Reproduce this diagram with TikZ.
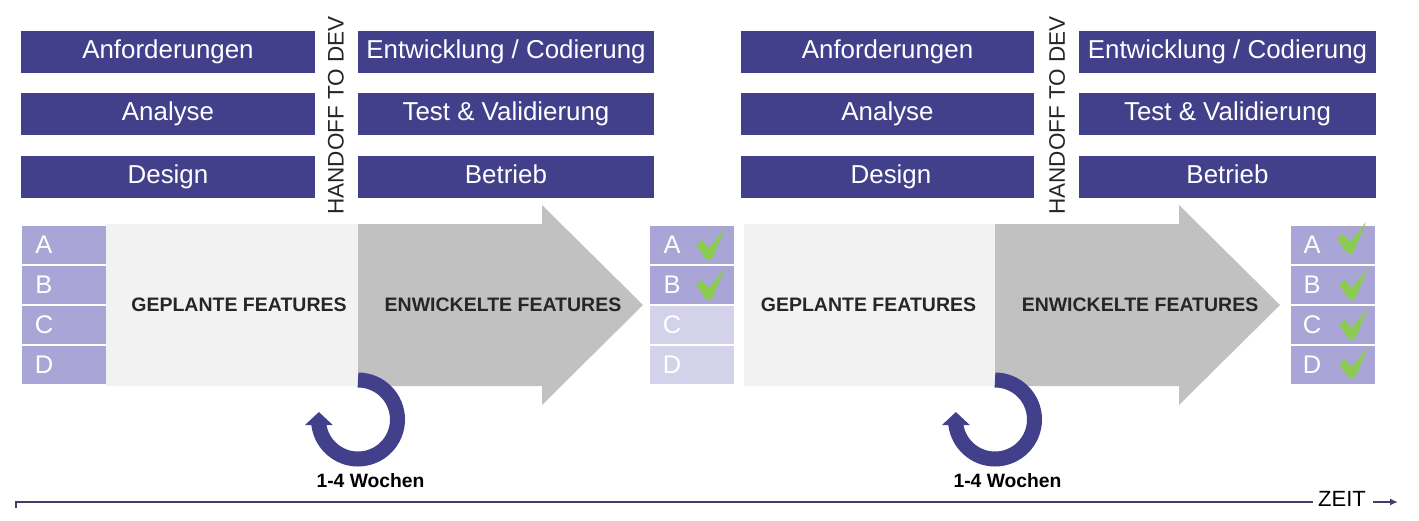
\documentclass[tikz,border=0pt]{standalone}
\usepackage{fontspec}
\setmainfont{Liberation Sans}
\usetikzlibrary{arrows.meta}
\definecolor{navy}{HTML}{423F8B}
\definecolor{lavender}{HTML}{A9A5D6}
\definecolor{palelavender}{HTML}{D4D2EA}
\definecolor{planned}{HTML}{F2F2F2}
\definecolor{developed}{HTML}{C1C1C1}
\definecolor{tick}{HTML}{8CCB52}
\definecolor{timeline}{HTML}{3F3D70}

\begin{document}
\begin{tikzpicture}[
	x=1pt,
	y=-1pt,
	phase/.style={
		rectangle,
		fill=navy,
		text=white,
		inner sep=0pt,
		minimum height=42pt,
		text height=18pt,
		text depth=5pt,
		font=\fontsize{25.9}{25.9}\selectfont
	},
	feature/.style={
		rectangle,
		fill=lavender,
		text=white,
		inner sep=0pt,
		minimum width=84pt,
		minimum height=38.4pt
	},
	open/.style={
		fill=palelavender
	},
	letter/.style={
		text=white,
		inner sep=0pt,
		font=\fontsize{25.5}{25.5}\selectfont
	},
	band/.style={
		inner sep=0pt,
		text=black!85,
		font=\bfseries\fontsize{19.5}{19.5}\selectfont
	},
	handoff/.style={
		rotate=90,
		inner sep=0pt,
		text=black!85,
		font=\fontsize{22.5}{22.5}\selectfont
	},
	duration/.style={
		inner sep=0pt,
		font=\bfseries\fontsize{19.3}{19.3}\selectfont
	},
	axislabel/.style={
		inner ysep=0pt,
		inner xsep=5pt,
		font=\fontsize{22}{22}\selectfont
	},
	loop/.style={
		draw=navy,
		line width=15pt,
		-{Triangle[width=27pt,length=13pt]}
	}
]
\useasboundingbox (0,0) rectangle (1419,520);

% Phases
\node [phase, minimum width=294pt] (Req 1) at (168,51.5) {Anforderungen};
\node [phase, minimum width=294pt] (Ana 1) at (168,114) {Analyse};
\node [phase, minimum width=294pt] (Des 1) at (168,177) {Design};
\node [phase, minimum width=296pt] (Dev 1) at (506,51.5) {Entwicklung / Codierung};
\node [phase, minimum width=296pt] (Test 1) at (506,114) {Test \& Validierung};
\node [phase, minimum width=296pt] (Ops 1) at (506,177) {Betrieb};
\node [phase, minimum width=293pt] (Req 2) at (887.5,51.5) {Anforderungen};
\node [phase, minimum width=293pt] (Ana 2) at (887.5,114) {Analyse};
\node [phase, minimum width=293pt] (Des 2) at (887.5,177) {\hspace*{7pt}Design};
\node [phase, minimum width=297pt] (Dev 2) at (1227.5,51.5) {Entwicklung / Codierung};
\node [phase, minimum width=297pt] (Test 2) at (1227.5,114) {Test \& Validierung};
\node [phase, minimum width=297pt] (Ops 2) at (1227.5,177) {Betrieb};

% Handoff
\node [handoff] (Handoff 1) at (336,115.5) {HANDOFF TO DEV};
\node [handoff] (Handoff 2) at (1057,115.5) {HANDOFF TO DEV};

% Bands
\fill [planned] (106,224) rectangle (358,386);
\fill [developed] (358,224) -- (542,224) -- (542,205) -- (643,305) -- (542,405) -- (542,386) -- (358,386) -- cycle;
\fill [planned] (744,224) rectangle (995,386);
\fill [developed] (995,224) -- (1179,224) -- (1179,205) -- (1280,305) -- (1179,405) -- (1179,386) -- (995,386) -- cycle;
\node [band] (Planned 1) at (239,305) {GEPLANTE FEATURES};
\node [band] (Built 1) at (503,305) {ENWICKELTE FEATURES};
\node [band] (Planned 2) at (868.5,305) {GEPLANTE FEATURES};
\node [band] (Built 2) at (1140,305) {ENWICKELTE FEATURES};

% Features
\foreach \name/\row in {A/244.8,B/285,C/325,D/365.2} {
	\node [feature] (\name 1) at (64,\row) {};
	\node [letter] at (44,\row) {\name};
	\node [feature] (\name 3) at (1333,\row) {};
	\node [letter] at (1312,\row) {\name};
}
\node [feature] (A 2) at (692,244.8) {};
\node [feature] (B 2) at (692,285) {};
\node [feature, open] (C 2) at (692,325) {};
\node [feature, open] (D 2) at (692,365.2) {};
\foreach \name/\row in {A/244.8,B/285,C/325,D/365.2}
	\node [letter] at (672,\row) {\name};

% Ticks
\foreach \col/\row in {709/259,709/299,1350/253,1352/299,1352/339,1352/378}
	\fill [tick, shift={(\col,\row)}] (-13,-14) -- (-7,-19) -- (0,-11) -- (16,-31) -- (3,0) -- (-3,0) -- cycle;

% Loops
\coordinate (Loop start 1) at (358,380);
\coordinate (Loop start 2) at (995,380);
\draw [loop] (Loop start 1) arc [start angle=90, end angle=-172, radius=39.5pt] -- ++(0,-13);
\draw [loop] (Loop start 2) arc [start angle=90, end angle=-172, radius=39.5pt] -- ++(0,-13);
\node [duration] (Weeks 1) at (370.5,481) {1-4 Wochen};
\node [duration] (Weeks 2) at (1007.5,481) {1-4 Wochen};

% Time axis
\node [axislabel] (Time) at (1342,499) {ZEIT};
\coordinate (Axis start) at (16,508);
\coordinate (Axis corner) at (16,502);
\coordinate (Axis end) at (1398,502);
\draw [timeline, line width=1.6pt] (Axis start) -- (Axis corner) -- (Axis corner -| Time.west);
\draw [timeline, line width=1.6pt, -{Latex[length=8pt,width=7pt]}] (Time.east |- Axis end) ++(2,0) -- (Axis end);

\end{tikzpicture}
\end{document}
